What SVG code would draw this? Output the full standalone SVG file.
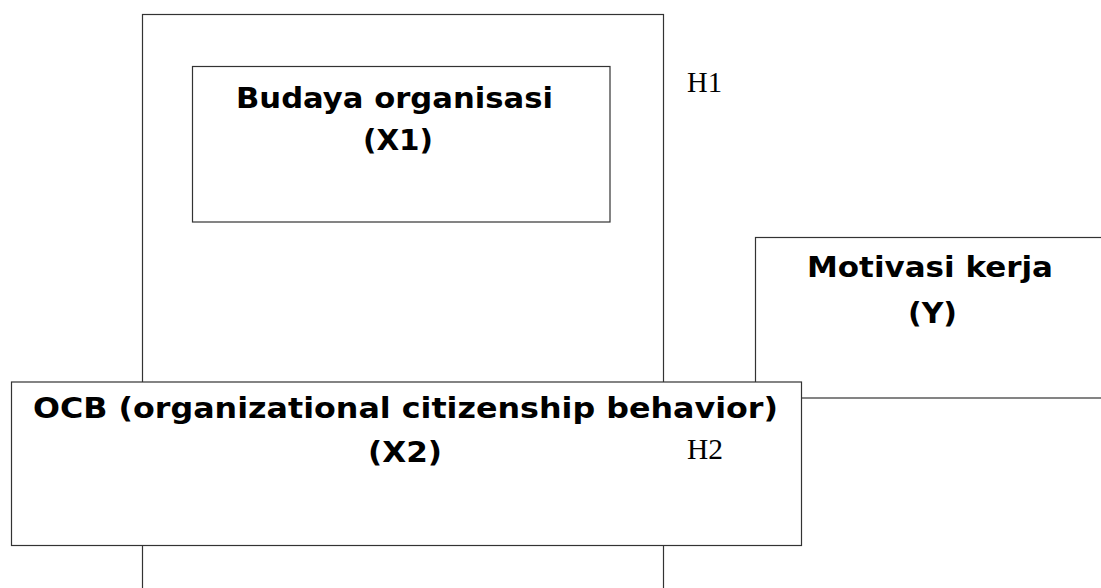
<svg xmlns="http://www.w3.org/2000/svg" width="1101" height="588" viewBox="0 0 1101 588">
<style>
.box{fill:#fff;stroke:#333;stroke-width:1.2}
.frame{fill:none;stroke:#333;stroke-width:1.2}
.t{font-family:"DejaVu Sans",sans-serif;font-weight:bold;font-size:29px;fill:#000}
.h{font-family:"Liberation Serif",serif;font-size:29px;fill:#000}
</style>
<rect width="1101" height="588" fill="#fff"/>
<g id="connectors">
<rect class="frame" x="142.5" y="14.5" width="521" height="620"/>
</g>
<g id="budaya">
<rect class="box" x="192.5" y="66.5" width="417.5" height="155.5"/>
<text class="t" x="236" y="107.5" textLength="317" lengthAdjust="spacingAndGlyphs">Budaya organisasi</text>
<text class="t" x="363" y="150" textLength="70" lengthAdjust="spacingAndGlyphs">(X1)</text>
</g>
<g id="motivasi">
<rect class="box" x="755.5" y="237.5" width="360" height="160.5"/>
<text class="t" x="807" y="277" textLength="246" lengthAdjust="spacingAndGlyphs">Motivasi kerja</text>
<text class="t" x="908" y="323" textLength="49" lengthAdjust="spacingAndGlyphs">(Y)</text>
</g>
<g id="ocb">
<rect class="box" x="11.5" y="382" width="790" height="163.5"/>
<text class="t" x="33" y="418" textLength="745" lengthAdjust="spacingAndGlyphs">OCB (organizational citizenship behavior)</text>
<text class="t" x="368" y="461.5" textLength="74" lengthAdjust="spacingAndGlyphs">(X2)</text>
</g>
<g id="labels">
<text class="h" x="687" y="91.5" textLength="35" lengthAdjust="spacingAndGlyphs">H1</text>
<text class="h" x="687" y="459" textLength="36" lengthAdjust="spacingAndGlyphs">H2</text>
</g>
</svg>
